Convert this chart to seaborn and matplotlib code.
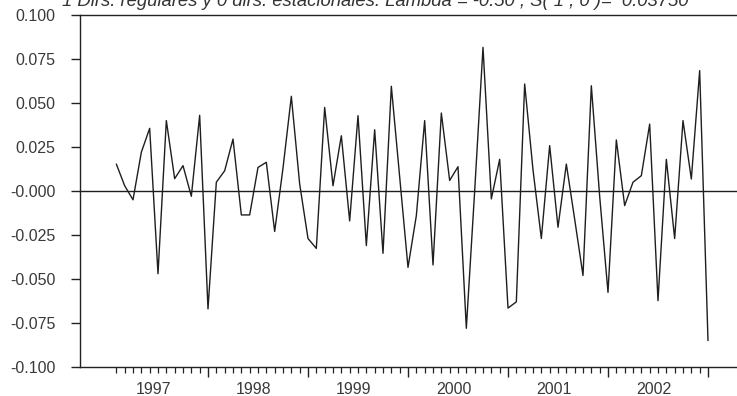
import numpy as np
import pandas as pd
import matplotlib
matplotlib.use("Agg")
import matplotlib.pyplot as plt
import seaborn as sns

sns.set_style("ticks")
plt.rcParams['font.family'] = ['Liberation Sans', 'DejaVu Sans']

# monthly values, Feb 1997 - Jan 2003
values = [
    0.0153, 0.003, -0.005, 0.022, 0.0356, -0.047, 0.040, 0.007, 0.0144, -0.003,
    0.043, -0.067, 0.005, 0.0115, 0.0295, -0.0136, -0.0136, 0.0134, 0.0163, -0.023,
    0.013, 0.0538, 0.004, -0.027, -0.0326, 0.0475, 0.003, 0.0314, -0.017, 0.0428,
    -0.031, 0.0348, -0.0354, 0.0595, 0.008, -0.0434, -0.014, 0.040, -0.042, 0.0443,
    0.006, 0.0138, -0.078, 0.0, 0.0816, -0.0045, 0.018, -0.0665, -0.063, 0.0608,
    0.012, -0.027, 0.0258, -0.0206, 0.0153, -0.016, -0.048, 0.0598, -0.003, -0.0576,
    0.029, -0.0083, 0.005, 0.0087, 0.038, -0.0623, 0.018, -0.027, 0.040, 0.0068,
    0.0684, -0.085,
]
dates = pd.date_range("1997-02-01", periods=len(values), freq="MS")
years = [1997, 1998, 1999, 2000, 2001, 2002]
ytick_vals = [0.100, 0.075, 0.050, 0.025, 0.0, -0.025, -0.050, -0.075, -0.100]
ytick_labels = ["0.100", "0.075", "0.050", "0.025", "-0.000", "-0.025", "-0.050", "-0.075", "-0.100"]
title = "1 Dirs. regulares y 0 dirs. estacionales. Lambda = -0.50 ; S( 1 , 0 )=  0.03750"

# decimal year for each observation
xdec = dates.year + (dates.month - 1) / 12.0
df = pd.DataFrame({"t": xdec, "v": values})

fig = plt.figure(figsize=(7.37, 3.96), dpi=100)
W, H = 737, 396
ax = fig.add_axes([80 / W, (H - 367) / H, (770 - 80) / W, (367 - 15) / H])

sns.lineplot(data=df, x="t", y="v", ax=ax, color="#1e1e1e", linewidth=1.0)
ax.axhline(0, color="#1e1e1e", linewidth=1.0)

x0 = 1998 + (80 - 208) / 100.0
x1 = 1998 + (770 - 208) / 100.0
ax.set_xlim(x0, x1)
ax.set_ylim(-0.100, 0.100)

ax.set_yticks(ytick_vals)
ax.set_yticklabels(ytick_labels)
ax.set_xticks([y + 1 for y in years])
ax.set_xticklabels([])
ax.set_xticks(list(xdec), minor=True)
ax.tick_params(axis="y", length=6.5, width=1.0, color="#222222", labelsize=11.5,
               labelcolor="#3a3a3a", pad=11)
ax.tick_params(axis="x", which="major", length=7.5, width=1.0, color="#222222")
ax.tick_params(axis="x", which="minor", length=4.5, width=0.9, color="#222222")

for y in years:
    ax.text(y + 5.5 / 12, -0.1 - 0.2 * 15 / 352, str(y), ha="center", va="top",
            fontsize=11.5, color="#3a3a3a")

ax.set_xlabel("")
ax.set_ylabel("")
for s in ["top", "left", "bottom"]:
    ax.spines[s].set_color("#222222")
    ax.spines[s].set_linewidth(1.0)
ax.spines["right"].set_visible(False)

fig.text(62 / W, 1 - 6 / H, title, ha="left", va="baseline", fontsize=13.3,
         style="italic", color="#333333")

fig.savefig("out.png", dpi=100)
